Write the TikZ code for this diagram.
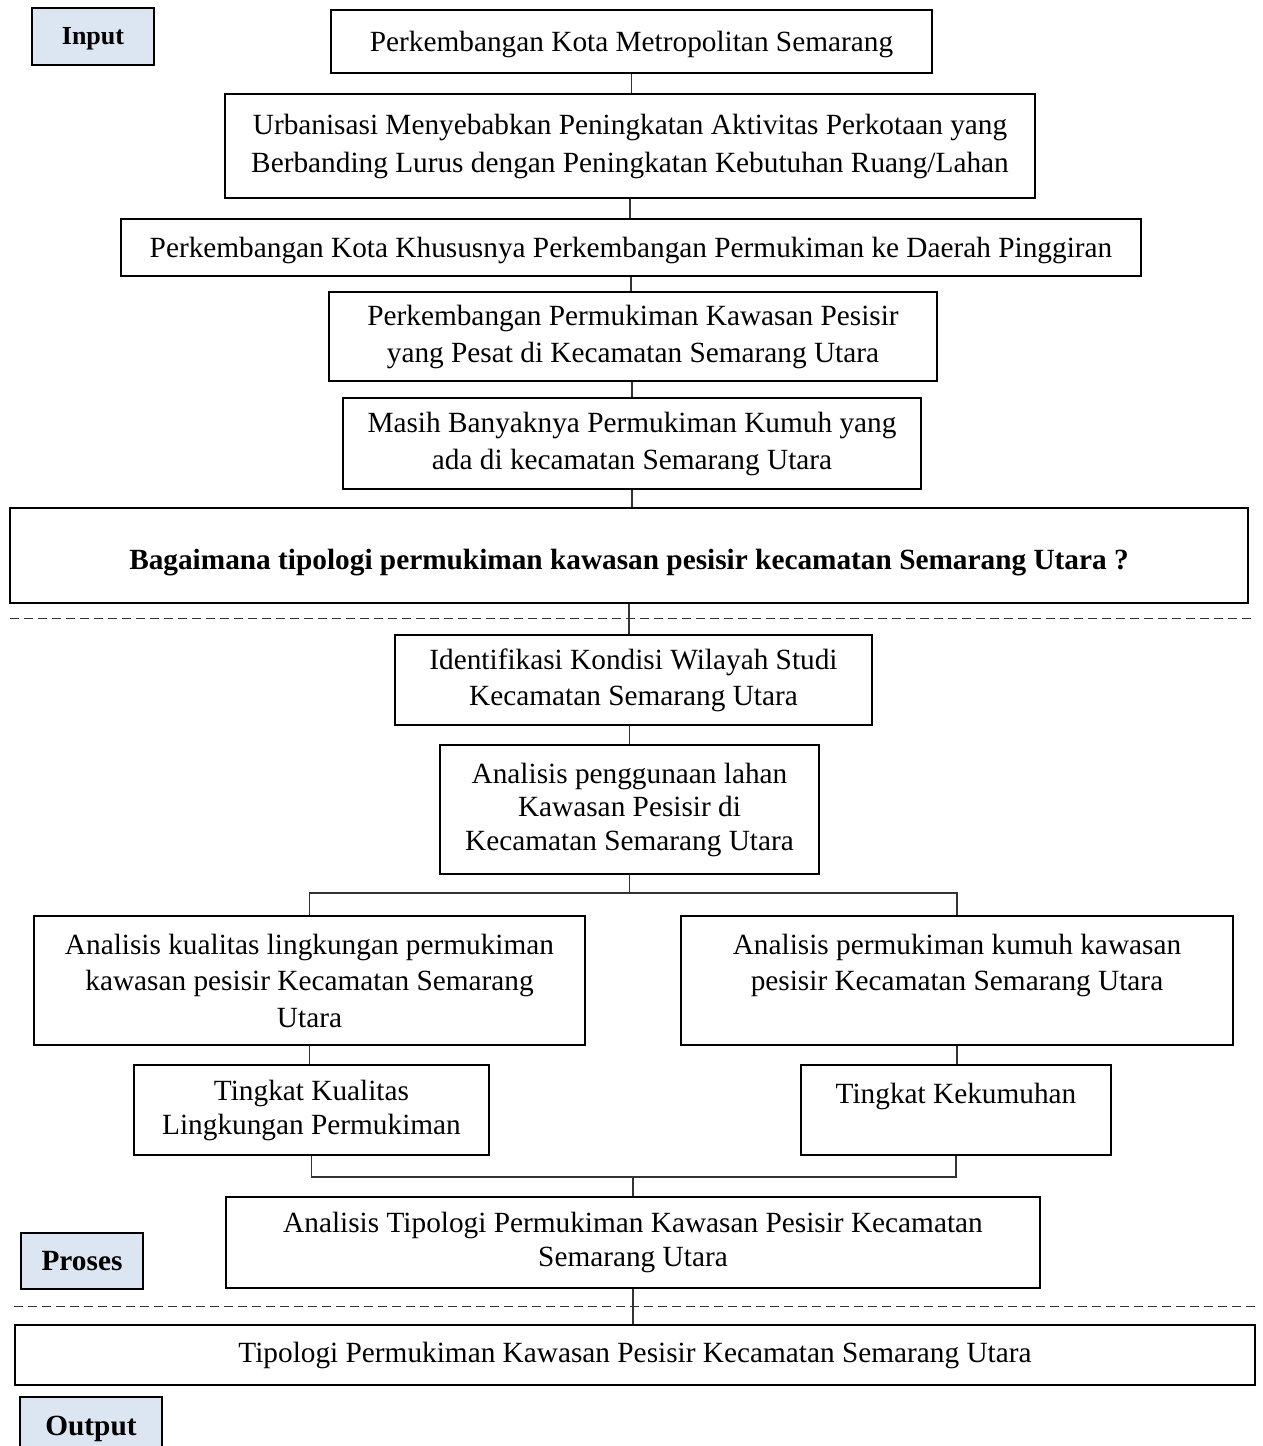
\documentclass[tikz,border=0pt]{standalone}
\usepackage{fontspec}
\setmainfont{Liberation Serif}
\definecolor{lblfill}{HTML}{DCE6F2}
\definecolor{linec}{HTML}{333333}
\begin{document}
\begin{tikzpicture}[x=1pt,y=-1pt,
  box/.style={draw=black, line width=1.1pt, align=center, inner sep=0pt,
    font=\fontsize{29.3}{35}\selectfont},
  lbl/.style={draw=black, line width=1.1pt, fill=lblfill, align=center, inner sep=0pt,
    font=\fontsize{29.3}{35}\selectfont\bfseries},
  conn/.style={draw=linec, line width=1.1pt},
  sep/.style={draw=linec, line width=0.9pt, dash pattern=on 9pt off 5pt}]
\useasboundingbox (0,0) rectangle (1262,1446);

\node[box, minimum width=601pt, minimum height=63pt, text height=26pt] (n1) at (631.5,41.5) {Perkembangan Kota Metropolitan Semarang};
\node[box, minimum width=810pt, minimum height=104pt, font=\fontsize{29.3}{38}\selectfont] (n2) at (630,146) {Urbanisasi Menyebabkan Peningkatan Aktivitas Perkotaan yang\\Berbanding Lurus dengan Peningkatan Kebutuhan Ruang/Lahan};
\node[box, minimum width=1020pt, minimum height=57pt, text height=27pt] (n3) at (631,247.5) {Perkembangan Kota Khususnya Perkembangan Permukiman ke Daerah Pinggiran};
\node[box, minimum width=608pt, minimum height=89pt, font=\fontsize{29.3}{37}\selectfont] (n4) at (633,336.5) {Perkembangan Permukiman Kawasan Pesisir\\yang Pesat di Kecamatan Semarang Utara};
\node[box, minimum width=578pt, minimum height=91pt, font=\fontsize{29.3}{37}\selectfont] (n5) at (632,443.5) {Masih Banyaknya Permukiman Kumuh yang\\ada di kecamatan Semarang Utara};
\node[box, minimum width=1238pt, minimum height=95pt, text height=34pt, font=\fontsize{29.3}{35}\selectfont\bfseries] (n6) at (629,555.5) {Bagaimana tipologi permukiman kawasan pesisir kecamatan Semarang Utara ?};
\node[box, minimum width=477pt, minimum height=90pt, font=\fontsize{29.3}{36}\selectfont] (n7) at (633.5,680) {Identifikasi Kondisi Wilayah Studi\\Kecamatan Semarang Utara};
\node[box, minimum width=379pt, minimum height=129pt, font=\fontsize{29.3}{33.5}\selectfont] (n8) at (629.5,809.5) {Analisis penggunaan lahan\\Kawasan Pesisir di\\Kecamatan Semarang Utara};
\node[box, minimum width=551pt, minimum height=129pt, font=\fontsize{29.3}{36.5}\selectfont] (n9) at (309.5,980.5) {Analisis kualitas lingkungan permukiman\\kawasan pesisir Kecamatan Semarang\\Utara};
\node[box, minimum width=552pt, minimum height=129pt, font=\fontsize{29.3}{36.5}\selectfont] (n10) at (957,980.5) {Analisis permukiman kumuh kawasan\\pesisir Kecamatan Semarang Utara\\\mbox{}};
\node[box, minimum width=355pt, minimum height=90pt, font=\fontsize{29.3}{34}\selectfont] (n11) at (311.5,1110) {Tingkat Kualitas\\Lingkungan Permukiman};
\node[box, minimum width=310pt, minimum height=90pt, font=\fontsize{29.3}{34}\selectfont] (n12) at (956,1110) {Tingkat Kekumuhan\\\mbox{}};
\node[box, minimum width=814pt, minimum height=91pt, font=\fontsize{29.3}{34}\selectfont] (n13) at (633,1242.5) {Analisis Tipologi Permukiman Kawasan Pesisir Kecamatan\\Semarang Utara};
\node[box, minimum width=1240pt, minimum height=60pt] (n14) at (635,1355) {Tipologi Permukiman Kawasan Pesisir Kecamatan Semarang Utara};

\node[lbl, minimum width=122pt, minimum height=57pt, text height=22pt, font=\fontsize{26}{35}\selectfont\bfseries] (lin) at (93,36.5) {Input};
\node[lbl, minimum width=122pt, minimum height=56pt] (lpr) at (82,1261) {Proses};
\node[lbl, minimum width=142pt, minimum height=63pt] (lout) at (91,1428.5) {Output};

% separators
\coordinate (s1a) at (10,618); \coordinate (s1b) at (1252,618);
\coordinate (s2a) at (14,1306); \coordinate (s2b) at (1255,1306);
\draw[sep] (s1a) -- (s1b);
\draw[sep] (s2a) -- (s2b);

% connectors
\draw[conn] (n1.south) -- (n1.south |- n2.north);
\draw[conn] (n2.south) -- (n2.south |- n3.north);
\draw[conn] (n3.south) -- (n3.south |- n4.north);
\draw[conn] (n4.south -| n5.north) -- (n5.north);
\draw[conn] (n5.south) -- (n5.south |- n6.north);
\draw[conn] (n6.south) -- (n6.south |- n7.north);
\draw[conn] (n8.north |- n7.south) -- (n8.north);
\coordinate (j1) at (630,893);
\draw[conn] (n8.south) -- (n8.south |- j1);
\draw[conn] (n9.north) |- (j1) -| (n10.north);
\draw[conn] (n9.south) -- (n9.south |- n11.north);
\draw[conn] (n10.south) -- (n10.south |- n12.north);
\coordinate (j2) at (633,1177);
\draw[conn] (n11.south) |- (j2) -| (n12.south);
\draw[conn] (j2) -- (j2 |- n13.north);
\draw[conn] (n13.south) -- (n13.south |- n14.north);
\end{tikzpicture}
\end{document}
